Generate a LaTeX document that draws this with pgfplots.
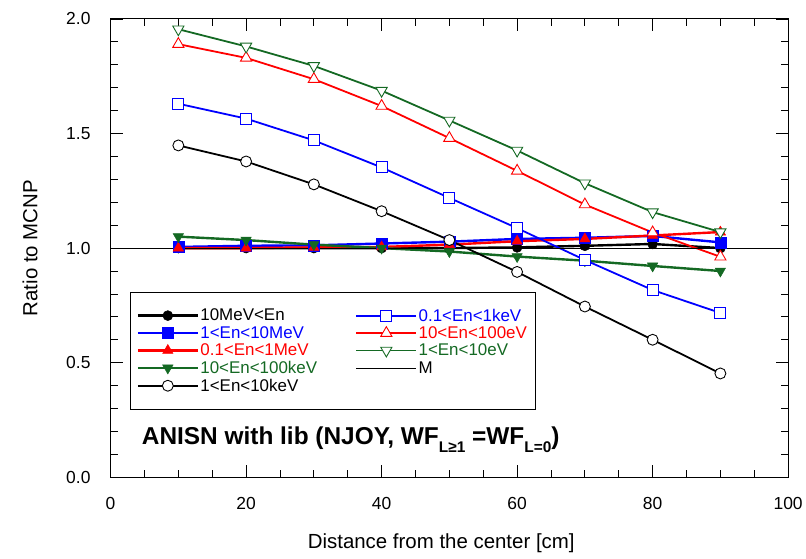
\documentclass[border=0pt]{standalone}
\usepackage{fontspec}
\setmainfont{Liberation Sans}
\usepackage{pgfplots}
\pgfplotsset{compat=1.18}
\definecolor{dgreen}{RGB}{20,105,35}
\newcommand{\lowsub}[1]{\raisebox{-8pt}{\fontsize{15.5}{16}\selectfont #1}}

\begin{document}
\begin{tikzpicture}
\begin{axis}[
    width=680pt, height=460pt, scale only axis,
    xmin=0, xmax=100, ymin=0, ymax=2,
    xtick={0,20,...,100}, ytick={0,0.5,...,2},
    minor x tick num=3, minor y tick num=4,
    tick align=inside, major tick length=12pt, minor tick length=7pt,
    tick style={black, line width=0.8pt},
    axis line style={line width=1pt},
    ticklabel style={font=\fontsize{17.5}{20}\selectfont},
    /pgf/number format/assume math mode=true,
    xticklabel style={anchor=center, yshift=-26pt},
    yticklabel style={anchor=east, inner sep=0pt, xshift=-20pt,
        /pgf/number format/.cd, fixed, fixed zerofill, precision=1},
    xlabel={Distance from the center [cm]},
    ylabel={Ratio to MCNP},
    every axis x label/.style={at={(axis description cs:0.488,-0.1435)}, anchor=center,
        font=\fontsize{20.5}{24}\selectfont},
    every axis y label/.style={at={(axis description cs:-0.119,0.5)}, rotate=90, anchor=center,
        font=\fontsize{20.5}{24}\selectfont},
    legend style={at={(axis description cs:0.028,0.404)}, anchor=north west,
        draw=black, font=\fontsize{17}{19}\selectfont,
        inner xsep=7pt, inner ysep=15pt,
        cells={anchor=west}, nodes={inner sep=1.5pt}, row sep=1pt,
        /tikz/column 2/.style={column sep=37pt}},
    legend cell align=left,
    transpose legend, legend columns=5,
    legend image code/.code={\draw[mark repeat=2, mark phase=2]
        plot coordinates {(0pt,0pt) (30pt,0pt) (60pt,0pt)};},
]
% filled markers, thick lines
\addplot[black, line width=2.4pt, mark=*, mark size=5pt, mark options={solid, line width=0.5pt}]
    coordinates {(10,1.0) (20,1.0) (30,1.0) (40,1.0) (50,1.0) (60,1.003) (70,1.01) (80,1.018) (90,1.0)};
\addlegendentry{10MeV<En}
\addplot[blue, line width=2.4pt, mark=square*, mark size=5.5pt, mark options={solid, line width=0.5pt}]
    coordinates {(10,1.005) (20,1.01) (30,1.012) (40,1.02) (50,1.028) (60,1.04) (70,1.045) (80,1.053) (90,1.025)};
\addlegendentry[text=blue]{1<En<10MeV}
\addplot[red, line width=2.4pt, mark=triangle*, mark size=6pt, mark options={solid, line width=0.5pt}]
    coordinates {(10,1.0) (20,1.0) (30,1.003) (40,1.005) (50,1.015) (60,1.03) (70,1.04) (80,1.055) (90,1.07)};
\addlegendentry[text=red]{0.1<En<1MeV}
\addplot[dgreen, line width=2.4pt, mark=triangle*, mark size=6pt, mark options={solid, line width=0.5pt, rotate=180}]
    coordinates {(10,1.05) (20,1.035) (30,1.015) (40,1.0) (50,0.985) (60,0.963) (70,0.945) (80,0.922) (90,0.9)};
\addlegendentry[text=dgreen]{10<En<100keV}
% open markers, medium lines
\addplot[black, line width=1.8pt, mark=*, mark size=5.5pt, mark options={solid, line width=0.9pt, fill=white}]
    coordinates {(10,1.448) (20,1.378) (30,1.278) (40,1.161) (50,1.035) (60,0.896) (70,0.745) (80,0.600) (90,0.453)};
\addlegendentry{1<En<10keV}
\addplot[blue, line width=1.8pt, mark=square*, mark size=5.5pt, mark options={solid, line width=0.9pt, fill=white}]
    coordinates {(10,1.63) (20,1.565) (30,1.47) (40,1.352) (50,1.219) (60,1.087) (70,0.948) (80,0.817) (90,0.717)};
\addlegendentry[text=blue]{0.1<En<1keV}
\addplot[red, line width=1.8pt, mark=triangle*, mark size=6.5pt, mark options={solid, line width=0.9pt, fill=white}]
    coordinates {(10,1.89) (20,1.83) (30,1.737) (40,1.62) (50,1.48) (60,1.337) (70,1.19) (80,1.068) (90,0.962)};
\addlegendentry[text=red]{10<En<100eV}
\addplot[dgreen, line width=1.8pt, mark=triangle*, mark size=6.5pt, mark options={solid, line width=0.9pt, fill=white, rotate=180}]
    coordinates {(10,1.955) (20,1.88) (30,1.795) (40,1.687) (50,1.557) (60,1.426) (70,1.283) (80,1.157) (90,1.07)};
\addlegendentry[text=dgreen]{1<En<10eV}
\addplot[black, line width=0.8pt] coordinates {(0,1) (100,1)};
\addlegendentry{M}

\node[anchor=west, font=\bfseries\fontsize{24.5}{27}\selectfont] at (axis cs:4.1,0.165)
    {ANISN with lib (NJOY, WF\lowsub{L≥1} =WF\lowsub{L=0})};
\coordinate (bl) at (rel axis cs:0,0);
\coordinate (tr) at (rel axis cs:1,1);
\end{axis}
\path ([xshift=-111pt,yshift=-82pt]bl) rectangle ([xshift=15pt,yshift=19pt]tr);
\end{tikzpicture}
\end{document}
